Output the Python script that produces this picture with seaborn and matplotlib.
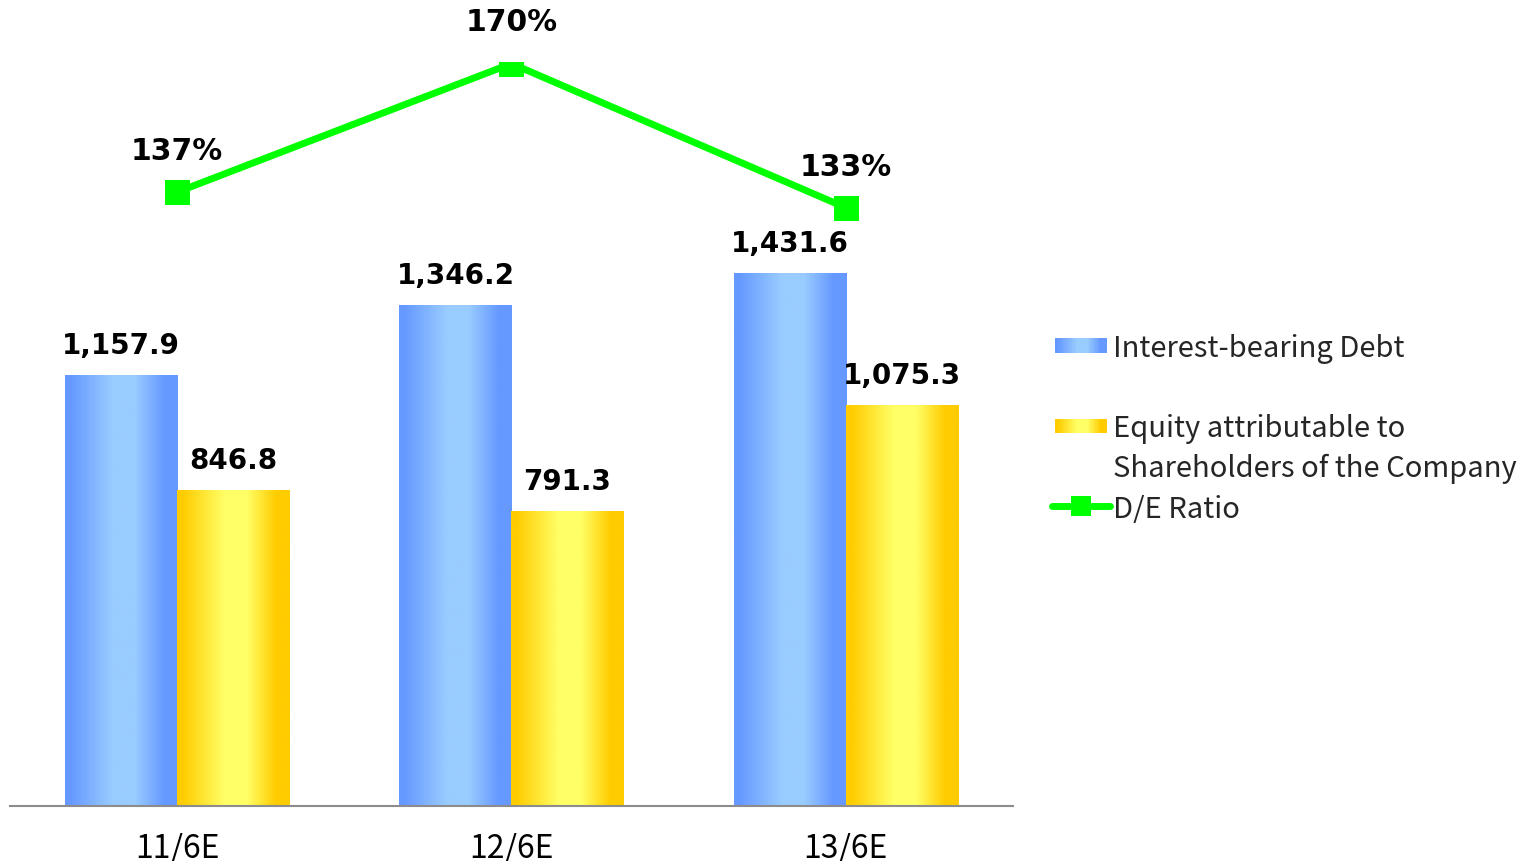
import numpy as np
import pandas as pd
import matplotlib
matplotlib.use('Agg')
import matplotlib.pyplot as plt
import seaborn as sns
from matplotlib.colors import LinearSegmentedColormap
from matplotlib.patches import Rectangle
from matplotlib.lines import Line2D
from matplotlib.legend_handler import HandlerBase

periods = ['11/6E', '12/6E', '13/6E']
debt = [1157.9, 1346.2, 1431.6]
equity = [846.8, 791.3, 1075.3]
de_ratio = [137, 170, 133]
series_names = ['Interest-bearing Debt', 'Equity attributable to Shareholders of the Company']

df = pd.DataFrame({'period': periods * 2,
                   'value': debt + equity,
                   'series': [series_names[0]] * 3 + [series_names[1]] * 3})

# horizontal gradients like the original bars
stops = [0, 0.05, 0.42, 0.62, 0.88, 1]
blue_cmap = LinearSegmentedColormap.from_list(
    'blue', list(zip(stops, ['#6699ff', '#6699ff', '#99ccff', '#99ccff', '#6699ff', '#6699ff'])))
yellow_cmap = LinearSegmentedColormap.from_list(
    'yellow', list(zip(stops, ['#ffcc00', '#ffcc00', '#ffff66', '#ffff66', '#ffcc00', '#ffcc00'])))

sns.set_theme(style='white')
plt.rcParams['font.family'] = ['Noto Sans CJK JP', 'DejaVu Sans']

fig = plt.figure(figsize=(15.29, 8.62), dpi=100)
ax = fig.add_axes([0.0065, 0.0638, 0.656, 0.8631])

sns.barplot(data=df, x='period', y='value', hue='series',
            palette=['#6699ff', '#ffcc00'], width=0.67, saturation=1,
            errorbar=None, legend=False, ax=ax)

grad = np.linspace(0, 1, 256).reshape(1, -1)
for container, cmap in zip(ax.containers, [blue_cmap, yellow_cmap]):
    for bar in container:
        x, w, h = bar.get_x(), bar.get_width(), bar.get_height()
        ax.imshow(grad, cmap=cmap, extent=[x, x + w, 0, h], aspect='auto',
                  zorder=bar.get_zorder(), interpolation='bilinear')
        bar.set_facecolor('none')
        bar.set_edgecolor('none')
    ax.bar_label(container, fmt='{:,.1f}', padding=12, fontsize=20,
                 fontweight='bold', family='DejaVu Sans', color='black')

ax.set_xlim(-0.5, 2.5)
ax.set_ylim(0, 2000)
ax.set_xlabel('')
ax.set_ylabel('')
ax.set_yticks([])
ax.tick_params(axis='x', length=0, pad=18, labelsize=23, labelcolor='black')
for side in ['left', 'right', 'top']:
    ax.spines[side].set_visible(False)
ax.spines['bottom'].set_color('#8c8c8c')
ax.spines['bottom'].set_linewidth(1.5)

# D/E ratio on a secondary axis
ax2 = ax.twinx()
sns.lineplot(x=np.arange(len(periods)), y=de_ratio, ax=ax2, color='#00ff00',
             linewidth=5, marker='s', markersize=18, markeredgewidth=0)
for i, v in enumerate(de_ratio):
    ax2.annotate(f'{v}%', (i, v), xytext=(0, 30), textcoords='offset points',
                 ha='center', va='center', fontsize=21.5, fontweight='bold',
                 family='DejaVu Sans', color='black')
ax2.set_ylim(-20.6, 170.4)
ax2.set_yticks([])
ax2.set_ylabel('')
for side in ax2.spines:
    ax2.spines[side].set_visible(False)
ax.set_xlim(-0.5, 2.5)


class GradientHandler(HandlerBase):
    def __init__(self, cmap):
        super().__init__()
        self.cmap = cmap

    def create_artists(self, legend, orig_handle, xdescent, ydescent,
                       width, height, fontsize, trans):
        n = 40
        inset = width * 0.06
        rw = (width - 2 * inset) / n
        rh = height * 0.7
        y0 = -ydescent + (height - rh) / 2
        arts = []
        for i in range(n):
            r = Rectangle((-xdescent + inset + i * rw, y0), rw * 1.05, rh,
                          facecolor=self.cmap((i + 0.5) / n), edgecolor='none',
                          transform=trans)
            arts.append(r)
        return arts


blue_h = Rectangle((0, 0), 1, 1)
yellow_h = Rectangle((0, 0), 1, 1)
blank1 = Rectangle((0, 0), 1, 1, visible=False)
blank2 = Rectangle((0, 0), 1, 1, visible=False)
line_h = Line2D([], [], color='#00ff00', linewidth=5, marker='s',
                markersize=14, markeredgewidth=0)

fig.legend([blue_h, blank1, yellow_h, blank2, line_h],
           ['Interest-bearing Debt', ' ', 'Equity attributable to',
            'Shareholders of the Company', 'D/E Ratio'],
           handler_map={blue_h: GradientHandler(blue_cmap),
                        yellow_h: GradientHandler(yellow_cmap)},
           loc='upper left', bbox_to_anchor=(0.688, 0.613), frameon=False,
           fontsize=21, handlelength=2.0, handletextpad=0.1,
           labelspacing=0.35, borderpad=0, borderaxespad=0)

fig.savefig('out.png', dpi=100)
